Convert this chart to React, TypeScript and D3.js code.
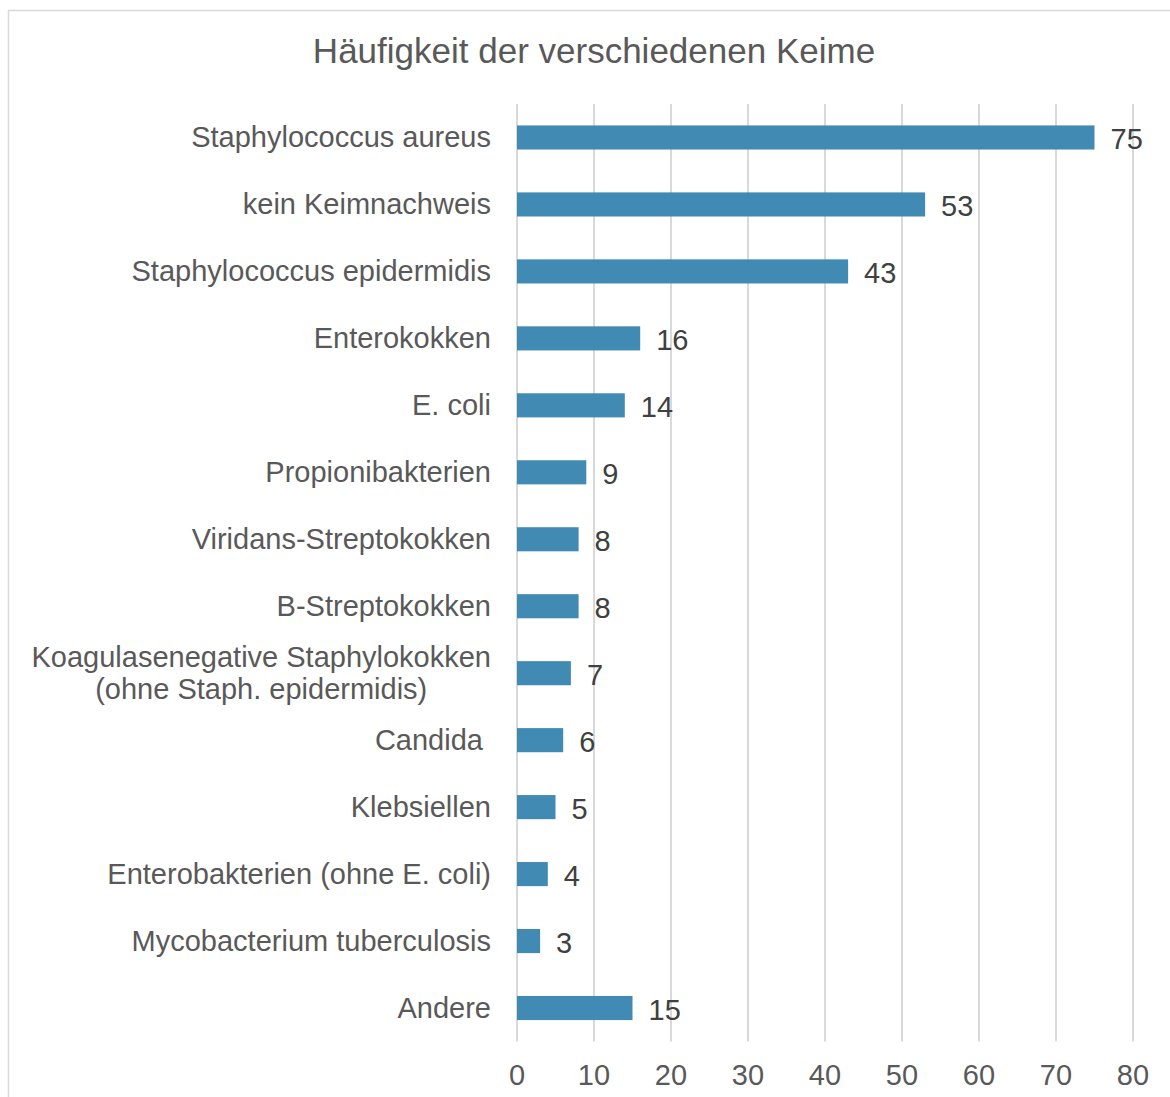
import React, { useEffect, useRef } from "react";
import * as d3 from "d3";

// data
const categories = [
  "Staphylococcus aureus",
  "kein Keimnachweis",
  "Staphylococcus epidermidis",
  "Enterokokken",
  "E. coli",
  "Propionibakterien",
  "Viridans-Streptokokken",
  "B-Streptokokken",
  "Koagulasenegative Staphylokokken\n(ohne Staph. epidermidis)",
  "Candida ",
  "Klebsiellen",
  "Enterobakterien (ohne E. coli)",
  "Mycobacterium tuberculosis",
  "Andere",
];
const counts = [75, 53, 43, 16, 14, 9, 8, 8, 7, 6, 5, 4, 3, 15];
const xTicks = [0, 10, 20, 30, 40, 50, 60, 70, 80];
const title = "Häufigkeit der verschiedenen Keime";

const W = 1170;
const H = 1097;
const FONT = "'Liberation Sans', Arial, sans-serif";

export default function App() {
  const ref = useRef<SVGSVGElement>(null);

  useEffect(() => {
    const svg = d3.select(ref.current);
    svg.selectAll("*").remove();

    const x = d3.scaleLinear().domain([0, 80]).range([517, 1133]);
    const y = d3
      .scaleBand()
      .domain(categories)
      .range([104, 1041.5])
      .paddingInner(0.64)
      .paddingOuter(0.32);

    // chart frame
    svg
      .append("rect")
      .attr("x", 8.5)
      .attr("y", 10.5)
      .attr("width", 1180)
      .attr("height", 1100)
      .attr("fill", "#fff")
      .attr("stroke", "#d9d9d9")
      .attr("stroke-width", 1.5);

    svg
      .append("text")
      .attr("x", 594)
      .attr("y", 63)
      .attr("text-anchor", "middle")
      .attr("font-family", FONT)
      .attr("font-size", 35)
      .attr("fill", "#595959")
      .text(title);

    // gridlines
    svg
      .append("g")
      .selectAll("line")
      .data(xTicks)
      .enter()
      .append("line")
      .attr("x1", (d) => x(d))
      .attr("x2", (d) => x(d))
      .attr("y1", 104)
      .attr("y2", 1041.5)
      .attr("stroke", "#d9d9d9")
      .attr("stroke-width", 2);

    svg
      .append("g")
      .selectAll("text")
      .data(xTicks)
      .enter()
      .append("text")
      .attr("x", (d) => x(d))
      .attr("y", 1085)
      .attr("text-anchor", "middle")
      .attr("font-family", FONT)
      .attr("font-size", 29)
      .attr("fill", "#595959")
      .text((d) => d);

    // bars
    svg
      .append("g")
      .selectAll("rect")
      .data(categories)
      .enter()
      .append("rect")
      .attr("x", x(0))
      .attr("y", (d) => y(d)!)
      .attr("width", (d, i) => x(counts[i]) - x(0))
      .attr("height", y.bandwidth())
      .attr("fill", "#418ab3");

    // value labels
    svg
      .append("g")
      .selectAll("text")
      .data(categories)
      .enter()
      .append("text")
      .attr("x", (d, i) => x(counts[i]) + 16)
      .attr("y", (d) => y(d)! + y.bandwidth() / 2 + 12)
      .attr("font-family", FONT)
      .attr("font-size", 29)
      .attr("fill", "#404040")
      .text((d, i) => counts[i]);

    // category labels, multi-line ones centred on each other
    const lab = svg.append("g");
    categories.forEach((c) => {
      const lines = c.split("\n");
      const cy = y(c)! + y.bandwidth() / 2;
      const t = lab
        .append("text")
        .attr("font-family", FONT)
        .attr("font-size", 29)
        .attr("fill", "#595959")
        .attr("text-anchor", "middle")
        .style("white-space", "pre");
      const spans = lines.map((l, k) =>
        t
          .append("tspan")
          .attr("y", cy + 10 + (k - (lines.length - 1) / 2) * 32)
          .text(l)
      );
      const widest = d3.max(spans, (s) => (s.node() as SVGTSpanElement).getComputedTextLength()) || 0;
      spans.forEach((s) => s.attr("x", 491 - widest / 2));
    });
  }, []);

  return (
    <svg
      ref={ref}
      width={W}
      height={H}
      style={{ position: "absolute", left: 0, top: 0, background: "#fff" }}
    />
  );
}
